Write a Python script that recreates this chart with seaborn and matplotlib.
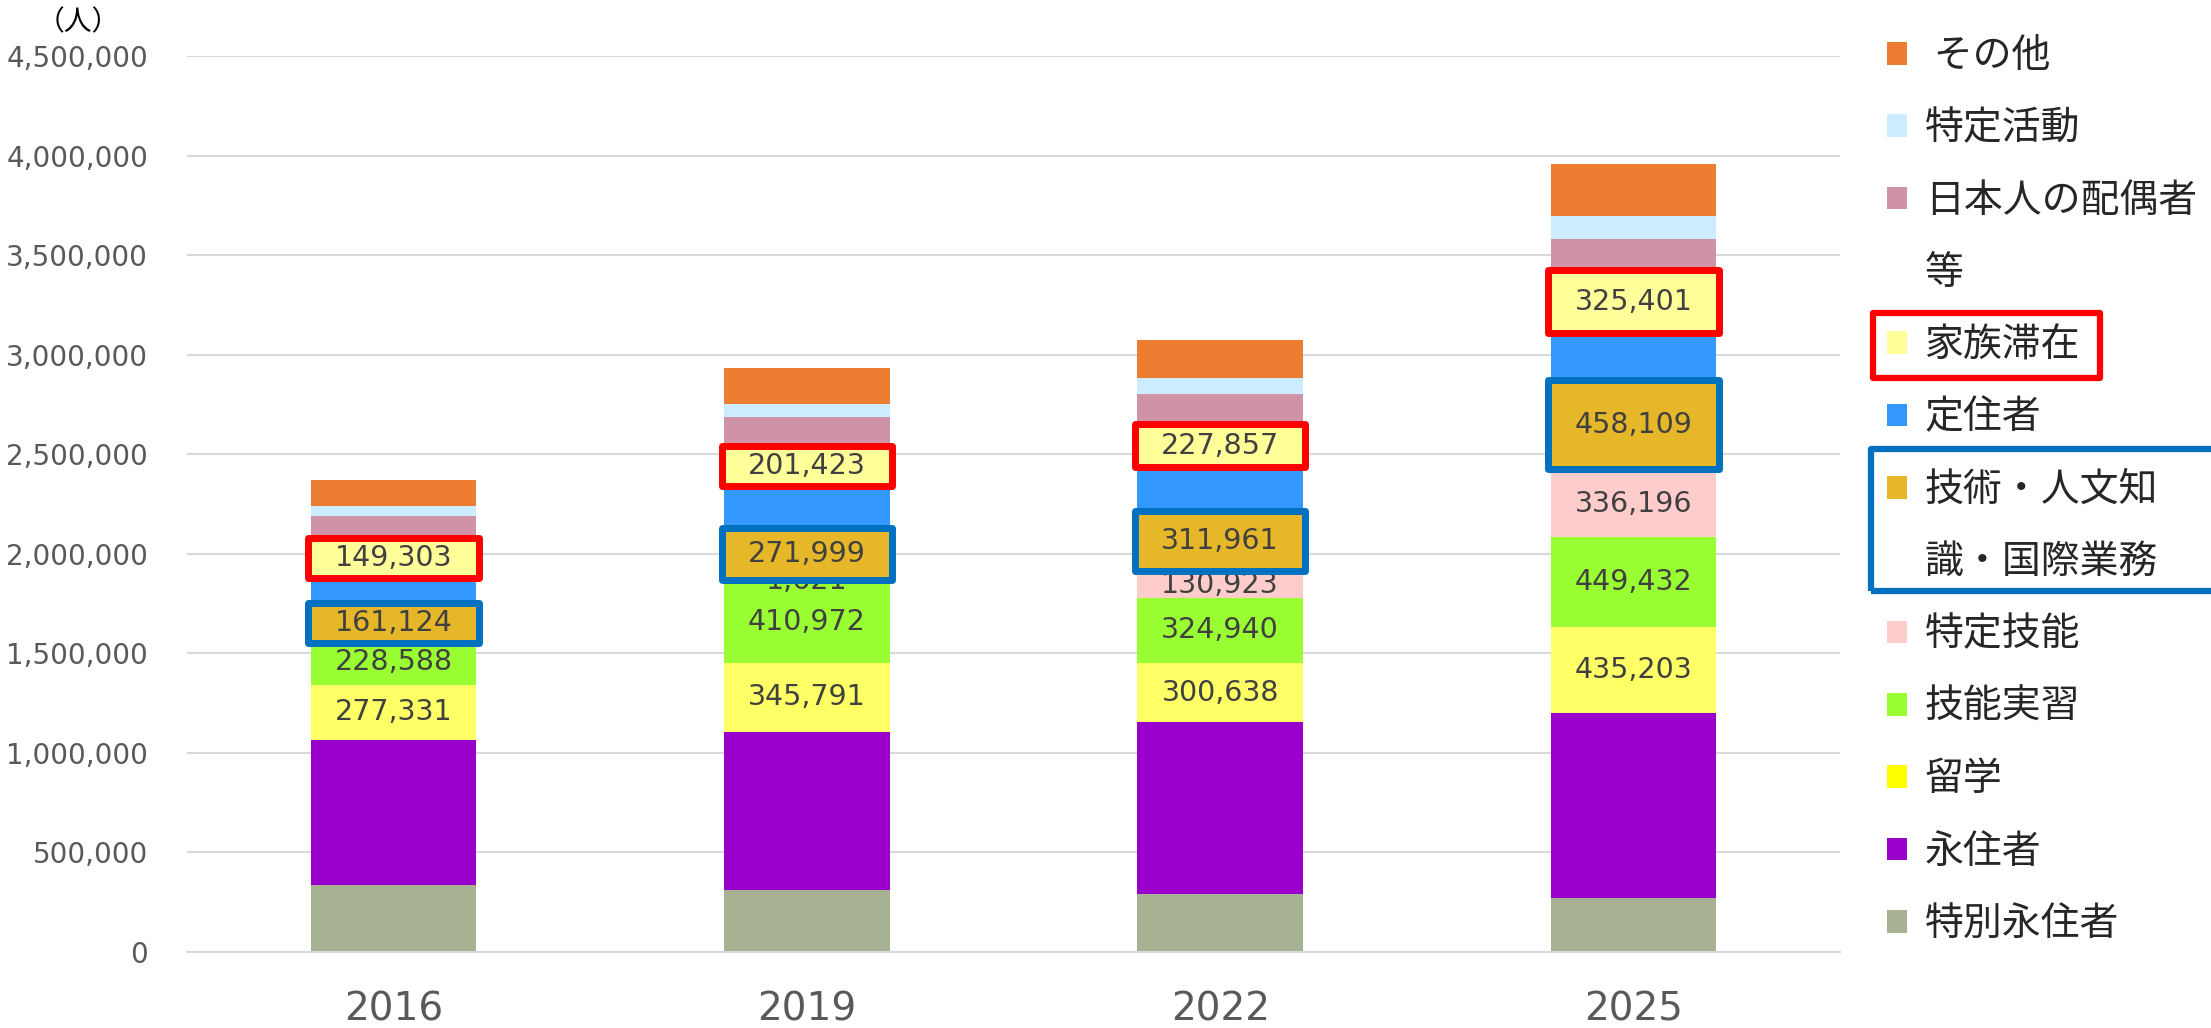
import numpy as np
import pandas as pd
import matplotlib
matplotlib.use("Agg")
import matplotlib.pyplot as plt
import seaborn as sns
from matplotlib.patches import Rectangle, Patch
from matplotlib.ticker import FuncFormatter, MultipleLocator, FixedLocator
from matplotlib.font_manager import FontProperties

# ---------------- data ----------------
years = ["2016", "2019", "2022", "2025"]
# stacking order, top to bottom (also legend order)
categories = ["その他", "特定活動", "日本人の配偶者等", "家族滞在", "定住者",
              "技術・人文知識・国際業務", "特定技能", "技能実習", "留学", "永住者", "特別永住者"]

other       = [135000, 180438, 193551, 257978]
designated  = [47039, 65187, 80496, 118000]
spouse      = [139327, 145254, 144993, 152000]
dependent   = [149303, 201423, 227857, 325401]
long_term   = [168830, 204787, 206938, 225000]
engineer    = [161124, 271999, 311961, 458109]
ssw         = [0, 1621, 130923, 336196]
trainee     = [228588, 410972, 324940, 449432]
student     = [277331, 345791, 300638, 435203]
permanent   = [727111, 793164, 863936, 928300]
special_perm = [338950, 312501, 288980, 271000]

values = {
    "その他": other, "特定活動": designated, "日本人の配偶者等": spouse,
    "家族滞在": dependent, "定住者": long_term, "技術・人文知識・国際業務": engineer,
    "特定技能": ssw, "技能実習": trainee, "留学": student, "永住者": permanent,
    "特別永住者": special_perm,
}

legend_labels = [" その他", "特定活動", "日本人の配偶者", "等", "家族滞在", "定住者",
                 "技術・人文知", "識・国際業務", "特定技能", "技能実習", "留学", "永住者", "特別永住者"]
legend_cats = ["その他", "特定活動", "日本人の配偶者等", None, "家族滞在", "定住者",
               "技術・人文知識・国際業務", None, "特定技能", "技能実習", "留学", "永住者", "特別永住者"]

labeled = ["留学", "技能実習", "特定技能", "技術・人文知識・国際業務", "家族滞在"]
boxed = {"家族滞在": "#FF0000", "技術・人文知識・国際業務": "#0070C0"}

# ---------------- styles ----------------
bar_colors = {
    "その他": "#ED7D31", "特定活動": "#CCECFF", "日本人の配偶者等": "#D092A7",
    "家族滞在": "#FFFF99", "定住者": "#3399FF", "技術・人文知識・国際業務": "#E6B829",
    "特定技能": "#FFCCCC", "技能実習": "#99FF33", "留学": "#FFFF66", "永住者": "#9900CC",
    "特別永住者": "#A6B292",
}
legend_colors = dict(bar_colors)
legend_colors["留学"] = "#FFFF00"

sns.set_style("white")
plt.rcParams["font.family"] = ["DejaVu Sans", "Noto Sans CJK JP"]

W, H = 2211, 1028
fig = plt.figure(figsize=(W / 100, H / 100), dpi=100)
ax = fig.add_axes([187 / W, 1 - 952 / H, (1840 - 187) / W, (952 - 56) / H])

rows = []
for c in categories:
    for y, v in zip(years, values[c]):
        rows.append({"year": y, "category": c, "value": v})
df = pd.DataFrame(rows)

sns.histplot(data=df, x="year", hue="category", weights="value", multiple="stack",
             hue_order=categories, palette=bar_colors, shrink=0.4, discrete=True,
             alpha=1, linewidth=0, legend=False, ax=ax, zorder=2)

ax.set_xlim(-0.5, 3.5)
ax.set_ylim(0, 4500000)
ax.yaxis.set_major_locator(MultipleLocator(500000))
ax.yaxis.set_major_formatter(FuncFormatter(lambda v, p: f"{v:,.0f}"))
ax.set_axisbelow(True)
ax.yaxis.grid(True, color="#D9D9D9", lw=1.5)
ax.xaxis.grid(False)
for s in ["left", "top", "right"]:
    ax.spines[s].set_visible(False)
ax.spines["bottom"].set_color("#D9D9D9")
ax.spines["bottom"].set_linewidth(1.5)
ax.set_xlabel("")
ax.set_ylabel("")
ax.tick_params(axis="y", length=0, pad=28, labelsize=20, labelcolor="#595959")
ax.tick_params(axis="x", which="major", length=0, pad=28, labelsize=28, labelcolor="#595959")
ax.xaxis.set_minor_locator(FixedLocator([-0.5, 0.5, 1.5, 2.5, 3.5]))
ax.tick_params(axis="x", which="minor", length=8, width=1.5, color="#D9D9D9")

# ---------------- labels and boxes ----------------
bottom_up = categories[::-1]
half = 0.2
xpad = 0.006
px_val = 500000 / 99.56          # data units per pixel
min_box = 40 * px_val            # minimum box path height
for i, y in enumerate(years):
    base = 0
    for c in bottom_up:
        v = values[c][i]
        mid = base + v / 2
        if c in boxed:
            bh = max(v - 2 * px_val, min_box)
            ax.add_patch(Rectangle((i - half - xpad, mid - bh / 2), 2 * (half + xpad), bh,
                                   facecolor=bar_colors[c], edgecolor=boxed[c], lw=5,
                                   joinstyle="round", zorder=4))
            ax.text(i, mid, f"{v:,}", ha="center", va="center", fontsize=20.5,
                    color="#404040", zorder=5)
        elif c in labeled and v > 0:
            ax.text(i, mid, f"{v:,}", ha="center", va="center", fontsize=20.5,
                    color="#404040", zorder=3)
        base += v

fig.text(78 / W, 1 - 22 / H, "（人）", ha="center", va="center", fontsize=20,
         family=["Noto Sans CJK JP"], color="#000000")

# ---------------- legend ----------------
handles = []
for c in legend_cats:
    if c is None:
        handles.append(Patch(facecolor="none", edgecolor="none"))
    else:
        handles.append(Patch(facecolor=legend_colors[c], edgecolor="none"))

fp = FontProperties(family=["Noto Sans CJK JP"], size=28)
fs_px = 28 * 100 / 72
lx = 1887 / W
ly = 1 - 30 / H


def make_legend(ls, y):
    return fig.legend(handles, legend_labels, loc="upper left", bbox_to_anchor=(lx, y),
                      bbox_transform=fig.transFigure, frameon=False, prop=fp,
                      handlelength=0.52, handleheight=0.52, handletextpad=0.45,
                      labelspacing=ls, borderpad=0, borderaxespad=0)


ls0 = 0.6
leg = make_legend(ls0, ly)
fig.canvas.draw()
r = fig.canvas.get_renderer()
ext = [t.get_window_extent(r) for t in leg.get_texts()]
pitch = ((ext[0].y0 + ext[0].y1) / 2 - (ext[-1].y0 + ext[-1].y1) / 2) / 12
h = pitch - ls0 * fs_px
ls1 = (72.33 - h) / fs_px
leg.remove()
leg = make_legend(ls1, ly)
fig.canvas.draw()
ext = [t.get_window_extent(r) for t in leg.get_texts()]
c0 = (ext[0].y0 + ext[0].y1) / 2
dy = (H - 56) - c0
leg.set_bbox_to_anchor((lx, ly + dy / H), transform=fig.transFigure)
fig.canvas.draw()
ext = [t.get_window_extent(r) for t in leg.get_texts()]
cen = [(e.y0 + e.y1) / 2 for e in ext]

# red box around 家族滞在
rx0 = 1887 - 14
rx1 = ext[4].x1 + 20
fig.add_artist(Rectangle((rx0 / W, (cen[4] - 33) / H), (rx1 - rx0) / W, 65 / H,
                         transform=fig.transFigure, fill=False, edgecolor="#FF0000",
                         lw=4.5, joinstyle="round"))
# blue box around 技術・人文知識・国際業務
bx0 = 1887 - 16
bx1 = W + 10
fig.add_artist(Rectangle((bx0 / W, (cen[7] - 29) / H), (bx1 - bx0) / W,
                         (cen[6] + 41 - (cen[7] - 29)) / H,
                         transform=fig.transFigure, fill=False, edgecolor="#0070C0",
                         lw=4.5, joinstyle="round"))

fig.savefig("out.png", dpi=100)
